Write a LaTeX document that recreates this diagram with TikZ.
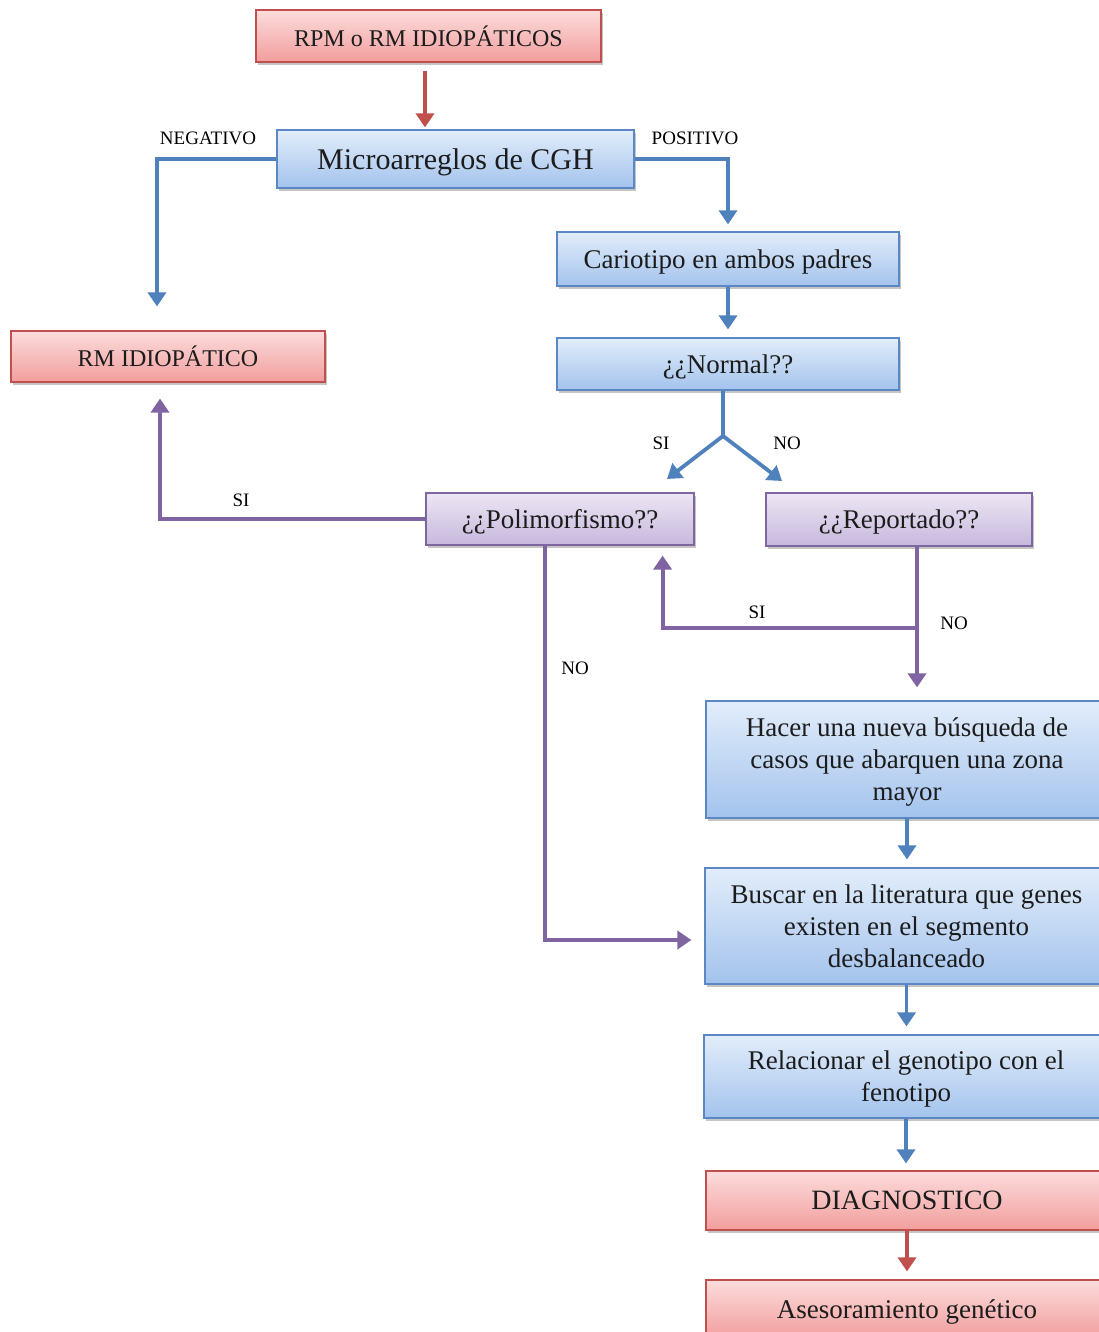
\documentclass[tikz,border=0pt]{standalone}
\usepackage{fontspec}
\setmainfont{Liberation Serif}
\usetikzlibrary{shadows,arrows.meta,calc}

\definecolor{bluetop}{HTML}{E2EDFA}
\definecolor{bluebot}{HTML}{A3C3ED}
\definecolor{blueline}{HTML}{5B87C4}
\definecolor{redtop}{HTML}{FCDCDC}
\definecolor{redbot}{HTML}{F19E9D}
\definecolor{redline}{HTML}{C0504D}
\definecolor{purtop}{HTML}{EDE6F4}
\definecolor{purbot}{HTML}{C6B8DC}
\definecolor{purline}{HTML}{7E67A0}
\definecolor{arrblue}{HTML}{4F81BD}
\definecolor{arrred}{HTML}{C0504D}
\definecolor{arrpur}{HTML}{8064A2}
\definecolor{ink}{HTML}{1C1C1C}

\tikzset{
  box/.style={rectangle, inner sep=0pt, align=center, text=ink, line width=1.2pt,
    text depth=0pt,
    drop shadow={shadow xshift=2pt, shadow yshift=-3pt, opacity=0.45}},
  bluebox/.style={box, draw=blueline, top color=bluetop, bottom color=bluebot},
  redbox/.style={box, draw=redline, top color=redtop, bottom color=redbot},
  purbox/.style={box, draw=purline, top color=purtop, bottom color=purbot},
  flow/.style={line width=3.8pt, -{Triangle[width=18pt,length=14pt]}},
  bflow/.style={flow, draw=arrblue, arrblue},
  rflow/.style={flow, draw=arrred, arrred},
  pflow/.style={flow, draw=arrpur, arrpur},
  tag/.style={text=black, font=\fontsize{19}{22}\selectfont, inner sep=0pt},
  caps/.style={font=\fontsize{24}{30}\selectfont},
  mid/.style={font=\fontsize{27}{32}\selectfont},
}

\begin{document}
\begin{tikzpicture}[x=1pt, y=-1pt]
\clip (0,0) rectangle (1099,1332);
\fill[white] (0,0) rectangle (1099,1332);

% boxes
\node[redbox, caps, minimum width=345pt, minimum height=52pt] (rpm) at (428.5,36) {RPM o RM IDIOPÁTICOS};
\node[bluebox, font=\fontsize{30}{34}\selectfont, minimum width=357pt, minimum height=58pt] (micro) at (455.5,159) {Microarreglos de CGH};
\node[bluebox, mid, minimum width=342pt, minimum height=54pt] (cario) at (728,259) {Cariotipo en ambos padres};
\node[bluebox, mid, minimum width=342pt, minimum height=52pt] (normal) at (728,364) {¿¿Normal??};
\node[redbox, caps, minimum width=314pt, minimum height=51pt] (rmidio) at (168,356.5) {RM IDIOPÁTICO};
\node[purbox, mid, minimum width=268pt, minimum height=52pt] (poli) at (560,519) {¿¿Polimorfismo??};
\node[purbox, mid, minimum width=266pt, minimum height=53pt] (repo) at (899,519.5) {¿¿Reportado??};
\node[bluebox, mid, minimum width=402pt, minimum height=117pt] (hacer) at (907,759.5)
  {Hacer una nueva búsqueda de\\casos que abarquen una zona\\mayor};
\node[bluebox, mid, minimum width=403pt, minimum height=116pt] (buscar) at (906.5,926)
  {Buscar en la literatura que genes\\existen en el segmento\\desbalanceado};
\node[bluebox, mid, minimum width=404pt, minimum height=83pt] (rel) at (906,1076.5)
  {Relacionar el genotipo con el\\fenotipo};
\node[redbox, font=\fontsize{28}{32}\selectfont, minimum width=402pt, minimum height=59pt] (diag) at (907,1200.5) {DIAGNOSTICO};
\node[redbox, mid, minimum width=402pt, minimum height=58pt] (ases) at (907,1309) {Asesoramiento genético};

% junctions and free arrow ends
\coordinate (split) at (723,436);
\coordinate (siTip) at (667,479);
\coordinate (noTip) at (782,481);
\coordinate (rj) at (917,628);

% connectors
\draw[rflow, shorten <=8pt, shorten >=2pt] ($(rpm.south)+(-3.5,0)$) -- ($(micro.north)+(-30.5,0)$);
\draw[bflow] (micro.west) -| ($(rmidio.north)+(-11,-24)$);
\draw[bflow] (micro.east) -| ($(cario.north)+(0,-7)$);
\draw[bflow, shorten >=8pt] (cario.south) -- (normal.north);
\draw[line width=3.8pt, arrblue] ($(normal.south)+(-5,0)$) -- (split);
\draw[bflow] (split) -- (siTip);
\draw[bflow] (split) -- (noTip);
\draw[pflow] (poli.west) -| ($(rmidio.south)+(-8,16)$);
\draw[pflow] ($(poli.south)+(-15,0)$) |- ($(buscar.west)+(-13,14)$);
\draw[pflow, shorten >=13pt] (repo.south -| rj) -- (rj |- hacer.north);
\draw[pflow] (rj) -| ($(poli.south east)+(-32,10)$);
\draw[bflow, shorten >=8pt] (hacer.south) -- (hacer.south |- buscar.north);
\draw[bflow, shorten >=8pt] (buscar.south) -- (buscar.south |- rel.north);
\draw[bflow, shorten >=7pt] (rel.south) -- (rel.south |- diag.north);
\draw[rflow, shorten >=8pt] (diag.south) -- (diag.south |- ases.north);

% branch labels
\node[tag] (lneg) at (208,138) {NEGATIVO};
\node[tag] (lpos) at (695,138) {POSITIVO};
\node[tag] (lsi1) at (661,443) {SI};
\node[tag] (lno1) at (787,443) {NO};
\node[tag] (lsi2) at (241,500) {SI};
\node[tag] (lno2) at (575,668) {NO};
\node[tag] (lsi3) at (757,612) {SI};
\node[tag] (lno3) at (954,623) {NO};
\end{tikzpicture}
\end{document}
